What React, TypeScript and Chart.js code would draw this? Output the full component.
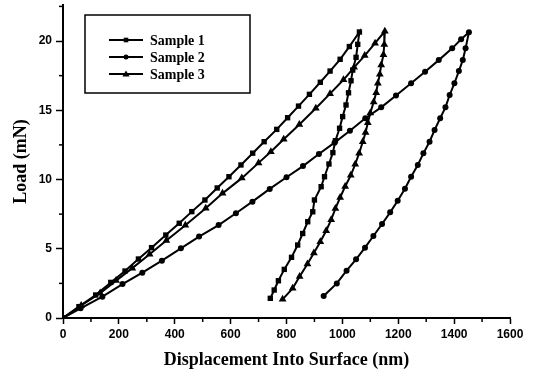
import React, { useEffect, useRef } from "react";
import { Chart, registerables } from "chart.js";

Chart.register(...registerables);

// Sample 1 (squares): loading then unloading
const s1Disp = [
  0, 57, 117, 171, 222, 270, 317, 368, 416, 461, 508, 552, 594, 637, 679, 720, 765, 804, 843, 882, 921, 956, 992, 1025, 1061,
  1055, 1049, 1037, 1031, 1022, 1013, 1001, 990, 975, 966, 952, 936, 924, 900, 894, 876, 858, 840, 818, 792, 771, 756, 742,
];
const s1Load = [
  0, 0.82, 1.66, 2.57, 3.39, 4.26, 5.08, 5.99, 6.84, 7.68, 8.52, 9.39, 10.2, 11.05, 11.9, 12.73, 13.62, 14.46, 15.3, 16.15, 17.02, 17.83, 18.68, 19.6, 20.65,
  19.76, 18.82, 17.9, 17.13, 16.26, 15.38, 14.54, 13.7, 12.8, 11.94, 11.12, 10.2, 9.48, 8.52, 7.67, 6.95, 6.1, 5.27, 4.38, 3.51, 2.69, 2.02, 1.42,
];

// Sample 2 (circles)
const s2Disp = [
  0, 63, 141, 213, 284, 354, 422, 487, 557, 619, 678, 740, 800, 859, 916, 972, 1027, 1082, 1139, 1192, 1246, 1296, 1345, 1393, 1425, 1453,
  1441, 1431, 1417, 1401, 1384, 1369, 1350, 1330, 1312, 1290, 1270, 1246, 1224, 1198, 1171, 1142, 1111, 1081, 1049, 1015, 980, 933,
];
const s2Load = [
  0, 0.7, 1.54, 2.45, 3.27, 4.14, 5.03, 5.88, 6.71, 7.56, 8.4, 9.32, 10.16, 10.97, 11.84, 12.66, 13.52, 14.42, 15.21, 16.07, 16.95, 17.78, 18.62, 19.47, 20.12, 20.63,
  19.47, 18.62, 17.83, 16.95, 16.1, 15.21, 14.42, 13.57, 12.73, 11.89, 11.05, 10.2, 9.33, 8.47, 7.63, 6.79, 5.92, 5.08, 4.24, 3.42, 2.5, 1.59,
];

// Sample 3 (triangles)
const s3Disp = [
  0, 65, 133, 190, 248, 310, 370, 438, 511, 571, 640, 700, 744, 790, 846, 905, 956, 1004, 1042, 1080, 1117, 1152,
  1150, 1147, 1139, 1134, 1127, 1121, 1112, 1100, 1091, 1083, 1073, 1060, 1046, 1030, 1010, 992, 975, 960, 942, 921, 898, 875, 847, 822, 786,
];
const s3Load = [
  0, 0.9, 1.8, 2.7, 3.6, 4.6, 5.6, 6.7, 7.92, 9.0, 10.1, 11.2, 12.0, 12.9, 13.97, 15.14, 16.2, 17.2, 18.1, 18.95, 19.84, 20.7,
  19.75, 19.0, 18.27, 17.6, 16.95, 16.27, 15.6, 14.8, 14.1, 13.4, 12.73, 11.9, 11.1, 10.3, 9.5, 8.7, 7.9, 7.1, 6.3, 5.5, 4.7, 3.9, 3.0, 2.14, 1.35,
];

const seriesNames = ["Sample 1", "Sample 2", "Sample 3"];
const xTicks = [0, 200, 400, 600, 800, 1000, 1200, 1400, 1600];
const yTicks = [0, 5, 10, 15, 20];
const xMinorTicks = [100, 300, 500, 700, 900, 1100, 1300, 1500];
const yMinorTicks = [2.5, 7.5, 12.5, 17.5, 22.5];

const toPts = (xs: number[], ys: number[]) => xs.map((x, i) => ({ x, y: ys[i] }));

const SERIF = "'Liberation Serif', 'Times New Roman', serif";
const SANS = "'Liberation Sans', Arial, sans-serif";

function drawMarker(ctx: CanvasRenderingContext2D, style: string, x: number, y: number, r: number) {
  ctx.beginPath();
  if (style === "rect") {
    ctx.rect(x - r, y - r, 2 * r, 2 * r);
  } else if (style === "circle") {
    ctx.arc(x, y, r, 0, Math.PI * 2);
  } else {
    ctx.moveTo(x, y - r * 1.2);
    ctx.lineTo(x + r * 1.2, y + r * 0.8);
    ctx.lineTo(x - r * 1.2, y + r * 0.8);
    ctx.closePath();
  }
  ctx.fill();
}

const extrasPlugin = {
  id: "extras",
  afterDraw(chart: any) {
    const { ctx, chartArea, scales } = chart;
    const xs = scales.x;
    const ys = scales.y;
    ctx.save();
    ctx.strokeStyle = "#000";
    ctx.lineWidth = 1.5;
    // minor ticks
    xMinorTicks.forEach((v) => {
      const px = xs.getPixelForValue(v);
      ctx.beginPath();
      ctx.moveTo(px, chartArea.bottom);
      ctx.lineTo(px, chartArea.bottom + 4);
      ctx.stroke();
    });
    yMinorTicks.forEach((v) => {
      const py = ys.getPixelForValue(v);
      ctx.beginPath();
      ctx.moveTo(chartArea.left, py);
      ctx.lineTo(chartArea.left - 4, py);
      ctx.stroke();
    });
    // legend box
    const bx = 85, by = 15, bw = 165, bh = 78;
    ctx.lineWidth = 1.5;
    ctx.strokeRect(bx, by, bw, bh);
    const styles = ["rect", "circle", "triangle"];
    const sizes = [2.3, 2.5, 3];
    const rows = [40, 57, 74];
    ctx.fillStyle = "#000";
    ctx.font = `bold 14px ${SERIF}`;
    ctx.textBaseline = "middle";
    ctx.textAlign = "left";
    seriesNames.forEach((name, i) => {
      const y = rows[i];
      ctx.lineWidth = 2;
      ctx.beginPath();
      ctx.moveTo(109, y);
      ctx.lineTo(143, y);
      ctx.stroke();
      drawMarker(ctx, styles[i], 126, y, sizes[i]);
      ctx.fillText(name, 150, y + 1);
    });
    ctx.restore();
  },
};

export default function App() {
  const ref = useRef<HTMLCanvasElement | null>(null);
  useEffect(() => {
    if (!ref.current) return;
    const common = {
      borderColor: "#000",
      backgroundColor: "#000",
      pointBackgroundColor: "#000",
      pointBorderColor: "#000",
      borderWidth: 2,
      pointBorderWidth: 0,
      showLine: true,
      tension: 0,
    };
    const chart = new Chart(ref.current, {
      type: "scatter",
      data: {
        datasets: [
          { ...common, label: seriesNames[0], data: toPts(s1Disp, s1Load), pointStyle: "rect", pointRadius: 3.8 },
          { ...common, label: seriesNames[1], data: toPts(s2Disp, s2Load), pointStyle: "circle", pointRadius: 3 },
          { ...common, label: seriesNames[2], data: toPts(s3Disp, s3Load), pointStyle: "triangle", pointRadius: 4.5 },
        ],
      },
      options: {
        responsive: false,
        animation: false,
        devicePixelRatio: 1,
        layout: { padding: { left: 0, right: 24, top: 5, bottom: 0 } },
        plugins: { legend: { display: false }, tooltip: { enabled: false } },
        scales: {
          x: {
            type: "linear",
            min: 0,
            max: 1600,
            afterBuildTicks: (axis: any) => {
              axis.ticks = xTicks.map((v) => ({ value: v }));
            },
            afterFit: (scale: any) => {
              scale.height = 54;
              scale.paddingLeft = 0;
              scale.paddingRight = 0;
            },
            ticks: {
              color: "#000",
              font: { family: SANS, size: 12, weight: "bold" },
              padding: 3,
              maxRotation: 0,
              callback: (v: any) => String(v),
            },
            grid: { drawOnChartArea: false, drawTicks: true, tickLength: 6, tickColor: "#000", tickWidth: 1.5 },
            border: { display: true, color: "#000", width: 2 },
            title: {
              display: true,
              text: "Displacement Into Surface (nm)",
              color: "#000",
              font: { family: SERIF, size: 18, weight: "bold" },
              padding: { top: 0, bottom: 1 },
            },
          },
          y: {
            type: "linear",
            min: 0,
            max: 22.6,
            afterBuildTicks: (axis: any) => {
              axis.ticks = yTicks.map((v) => ({ value: v }));
            },
            afterFit: (scale: any) => {
              scale.width = 63;
              scale.paddingTop = 0;
              scale.paddingBottom = 0;
            },
            ticks: {
              color: "#000",
              font: { family: SANS, size: 12, weight: "bold" },
              padding: 4,
              callback: (v: any) => String(v),
            },
            grid: { drawOnChartArea: false, drawTicks: true, tickLength: 7, tickColor: "#000", tickWidth: 1.5 },
            border: { display: true, color: "#000", width: 2 },
            title: {
              display: true,
              text: "Load (mN)",
              color: "#000",
              font: { family: SERIF, size: 18, weight: "bold" },
              padding: { top: 11, bottom: 0 },
            },
          },
        },
      },
      plugins: [extrasPlugin],
    } as any);
    return () => chart.destroy();
  }, []);
  return (
    <div style={{ position: "fixed", left: 0, top: 0, width: 534, height: 372, background: "#fff" }}>
      <canvas ref={ref} width={534} height={372} style={{ width: 534, height: 372, display: "block" }} />
    </div>
  );
}
